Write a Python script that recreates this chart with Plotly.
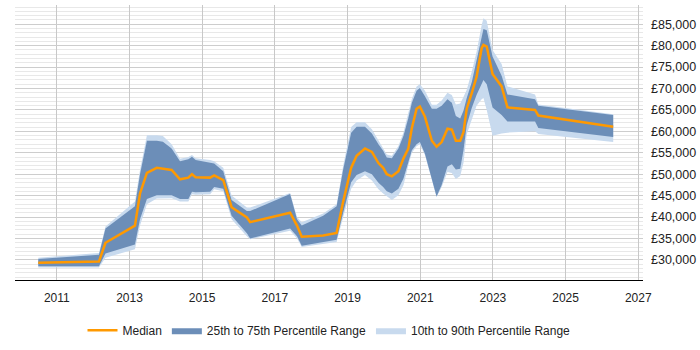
import plotly.graph_objects as go

years = [2010.49, 2012.16, 2012.34, 2013.15, 2013.29, 2013.48, 2013.75, 2013.92, 2014.16, 2014.39,
         2014.62, 2014.72, 2014.82, 2015.22, 2015.33, 2015.58, 2015.81, 2016.23, 2016.32, 2017.42,
         2017.61, 2017.74, 2018.33, 2018.70, 2018.88, 2019.10, 2019.25, 2019.48, 2019.67, 2019.85,
         2019.98, 2020.08, 2020.22, 2020.40, 2020.54, 2020.67, 2020.77, 2020.90, 2020.99, 2021.13,
         2021.32, 2021.45, 2021.59, 2021.75, 2021.87, 2021.98, 2022.10, 2022.19, 2022.28, 2022.42,
         2022.55, 2022.69, 2022.74, 2022.83, 2022.99, 2023.24, 2023.40, 2024.16, 2024.25, 2026.31]

p10 = [28200, 28200, 30500, 32500, 38000, 43000, 44300, 44400, 44400, 43600,
       43600, 45300, 45200, 45300, 46500, 46000, 39500, 35500, 34800, 36800,
       35000, 33000, 33800, 34200, 40000, 46600, 48500, 49800, 48500, 46500,
       45500, 44800, 44000, 45100, 47500, 52000, 55000, 56500, 57000, 54500,
       48800, 44700, 47000, 50500, 50300, 48900, 49600, 52600, 59300, 63000,
       66000, 67500, 67800, 65000, 59000, 59500, 59700, 60000, 59400, 57500]

p25 = [28500, 28500, 31500, 33600, 39500, 44200, 45100, 45100, 45100, 44200,
       44200, 45900, 45800, 45900, 47000, 46600, 40300, 36200, 35000, 37300,
       35500, 33300, 34200, 34700, 41000, 48100, 49800, 50700, 50000, 48000,
       47000, 46000, 45500, 46600, 49000, 53000, 55600, 57000, 57500, 54800,
       48900, 44800, 47500, 51800, 52300, 51100, 51300, 55600, 61500, 65500,
       68500, 71000, 72000, 71000, 65600, 63800, 62300, 62300, 60800, 58700]

median = [29300, 29600, 34000, 38000, 45500, 50300, 51500, 51300, 51000, 48800,
          49200, 50000, 49300, 49200, 49700, 48600, 42300, 39900, 38800, 41000,
          38000, 35400, 35700, 36300, 43600, 51500, 54300, 56000, 55200, 52600,
          51500, 50000, 49500, 50700, 53700, 55900, 60800, 65300, 65800, 63400,
          57800, 56400, 57500, 60600, 60400, 57800, 57800, 59800, 65300, 69000,
          72700, 79400, 80200, 79800, 73400, 70500, 65600, 65000, 63700, 61100]

p75 = [30200, 31200, 37300, 42500, 50000, 57800, 57800, 57600, 56000, 53000,
       53500, 54100, 53300, 52800, 52500, 50700, 44000, 41400, 41400, 45400,
       39500, 38000, 40300, 42500, 51100, 59700, 61100, 61100, 59500, 57000,
       55500, 53900, 53700, 56000, 59000, 63000, 66700, 69500, 70100, 68200,
       65300, 65300, 66000, 67500, 66700, 63600, 63000, 64800, 67800, 71500,
       76500, 82000, 83900, 83600, 77500, 73000, 68600, 67500, 66000, 63800]

p90 = [30500, 31600, 37800, 43600, 51000, 59100, 59100, 58900, 57000, 53600,
       54000, 54500, 53700, 53300, 53000, 51500, 45000, 42200, 42200, 45600,
       40000, 38800, 40800, 43000, 52000, 61000, 62100, 62100, 60500, 57800,
       56200, 54600, 54300, 56600, 59800, 64000, 67600, 70500, 71000, 69500,
       66200, 66200, 67200, 69000, 68500, 66300, 66500, 68000, 69700, 74000,
       78500, 84800, 86400, 85800, 79000, 75700, 70500, 68600, 66300, 64000]

x_ticks = [2011, 2013, 2015, 2017, 2019, 2021, 2023, 2025, 2027]
y_ticks = list(range(30000, 85001, 5000))
y_tick_text = ["£{:,}".format(v) for v in y_ticks]

LIGHT = "rgb(200,218,238)"
DARK = "rgb(108,142,184)"
ORANGE = "rgb(255,153,0)"

fig = go.Figure()
fig.add_trace(go.Scatter(x=years, y=p90, mode="lines", line=dict(width=0, color=LIGHT),
                         showlegend=False, hoverinfo="skip"))
fig.add_trace(go.Scatter(x=years, y=p10, mode="lines", line=dict(width=0, color=LIGHT),
                         fill="tonexty", fillcolor=LIGHT, name="10th to 90th Percentile Range",
                         legendrank=3))
fig.add_trace(go.Scatter(x=years, y=p75, mode="lines", line=dict(width=0, color=DARK),
                         showlegend=False, hoverinfo="skip"))
fig.add_trace(go.Scatter(x=years, y=p25, mode="lines", line=dict(width=0, color=DARK),
                         fill="tonexty", fillcolor=DARK, name="25th to 75th Percentile Range",
                         legendrank=2))
fig.add_trace(go.Scatter(x=years, y=median, mode="lines", line=dict(width=2.5, color=ORANGE),
                         name="Median", legendrank=1))

fig.update_layout(
    width=700, height=350,
    margin=dict(l=15, r=57, t=5, b=58),
    plot_bgcolor="white", paper_bgcolor="white",
    font=dict(family="Liberation Sans, Arial, sans-serif", size=12, color="#222"),
    showlegend=True,
    legend=dict(orientation="h", x=0.5, xanchor="center", y=-0.13, yanchor="top",
                traceorder="normal", font=dict(size=12, color="#222"), itemwidth=30,
                entrywidthmode="pixels"),
    xaxis=dict(range=[2009.85, 2027.13], tickvals=x_ticks, ticktext=[str(t) for t in x_ticks],
               showgrid=True, gridcolor="rgb(200,200,200)", gridwidth=1,
               showline=True, linecolor="black", linewidth=1, ticks="", zeroline=False,
               ticklabelstandoff=7, automargin=False),
    yaxis=dict(range=[25300, 89500], side="right", tickvals=y_ticks, ticktext=y_tick_text,
               showgrid=True, gridcolor="rgb(205,205,205)", gridwidth=1, zeroline=False,
               ticks="", ticklabelstandoff=7, automargin=False,
               tickfont=dict(size=12.5),
               minor=dict(dtick=1000, tick0=0, showgrid=True, gridcolor="rgb(232,232,232)", gridwidth=1)),
)

fig.write_html("out.html")
